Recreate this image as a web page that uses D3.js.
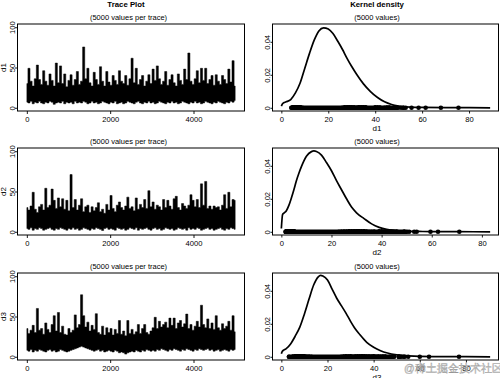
<!DOCTYPE html>
<html><head><meta charset="utf-8">
<script src="https://cdn.jsdelivr.net/npm/d3@7"></script>
<style>
body{margin:0;background:#fff}
svg{display:block}
text{font-family:"Liberation Sans",Arial,Helvetica,sans-serif}
</style>
</head><body>
<svg id="c" width="500" height="378"></svg>
<script>
// ---------------- data ----------------
const traceNames = ["d1", "d2", "d3"];
const nIter = 5000;
const iterTicks = [0, 2000, 4000];
const traceTicks = [0, 50, 100];
const densXTicks = [0, 20, 40, 60, 80];
const densYTicks = [0, 0.02, 0.04];
const traceTitle = "Trace Plot";
const densTitle = "Kernel density";
const traceSub = "(5000 values per trace)";
const densSub = "(5000 values)";

// trace envelopes: max / min value in each block of 50 iterations
const d1Hi = [30,49,33,27,36,53,35,29,46,33, 28,42,34,27,55.5,31,52,30,42,26, 34,41,28,35,45,29,33,75.5,36,49,
  31,27,44,35,29,51,33,27,45,32, 28,40,34,29,46,33,30,40,28,36, 61.5,31,49,29,35,40,27,33,41,30,
  48,34,52,36,29,33,45,28,35,41, 31,27,42,34,29,48,35,68,33,29, 36,46,31,49,34,49,30,35,40,28,
  41,33,29,40,35,30,48,32,58.5,27];
const d1Lo = [7,6,8,5,7,6,8,6,5,7, 6,8,7,4.3,6,7,6,8,5,7, 6,7,5,8,6,7,6,8,7,5, 6,8,6,7,5,6,8,7,6,5,
  7,6,8,5,6,7,5,6,8,7, 6,5,7,8,6,5,7,6,8,6, 7,5,6,8,7,6,5,7,6,8, 6,7,5,6,8,7,6,5,7,6,
  8,6,7,5,6,8,7,6,5,7, 6,8,7,6,5,7,6,8,7,9];
const d2Hi = [30,27,32,49,28,24,31,34,27,54, 30,33,53,39,29,42,31,41,28,39, 26,71,30,40,27,33,41,25,31,33,
  24,31,26,30,36,25,28,23,34,27, 45,29,25,33,37,30,27,32,43,29, 31,26,42,28,34,30,40,29,51,31,
  37,28,33,31,27,40,30,39,32,28, 41,44,30,27,35,32,29,33,46,39, 31,40,30,59.5,33,62.5,29,32,28,32,
  30,31,27,33,46,29,49,31,40,39];
const d2Lo = [4,3,5,2,4,3,5,4,2,3, 4,5,3,2,4,3,5,4,3,2, 4,3,5,3,4,2,3,5,4,3, 2,4,3,5,4,3,1.7,4,5,3,
  4,3,2,5,4,3,4,2,3,5, 4,3,5,2,4,3,4,5,3,2, 4,5,3,4,2,3,5,4,3,4, 2,3,5,4,3,4,2,5,3,4,
  3,5,4,2,3,4,5,3,4,2, 3,4,5,3,2,4,3,5,4,3];
const d3Hi = [35,29,33,39,30,60,33,35,28,42, 34,30,40,51,32,55,30,38,28,27, 35,30,33,52,36,40,77,51,37,43,
  32,39,34,53.5,30,28,38,27,36,30, 35,27,34,29,45,28,32,26,45,29, 34,28,31,40,29,35,40,30,28,32,
  36,49,35,44,37,40,43,36,48,39, 48,35,42,45,37,41,53,35,40,33, 38,44,37,64,40,36,47,35,42,34,
  51,36,33,41,35,38,44,33,51,31];
const d3Lo = [8,7,9,6,8,7,9,8,7,6, 8,9,7,8,6,7,9,8,7,6, 7,8,9,10,11,12,13,12,11,10, 9,8,7,8,9,7,8,6,7,8,
  7,6,8,7,5,6,5,3.3,5,6, 7,6,8,7,6,8,7,9,8,7, 8,7,9,8,10,9,8,7,9,8, 10,9,8,7,9,8,10,9,8,7,
  9,8,10,9,8,9,10,8,9,7, 8,9,7,8,9,8,7,9,8,9];

// kernel density estimates (x, density)
const dens1X = [0,0.5,1,2,4,6,8,10,12,14,16,18,20,22,24,26,28,30,32,35,38,41,44,47,50,55,60,70,80,89];
const dens1Y = [0.001,0.0025,0.003,0.0036,0.005,0.009,0.015,0.024,0.033,0.041,0.0466,0.0485,0.0478,0.045,0.0405,
  0.0355,0.030,0.025,0.0205,0.0145,0.0098,0.0062,0.0036,0.002,0.0011,0.0004,0.0002,0.0001,0.00005,0];
const dens2X = [0,0.5,1,2,3,4,5,6,7,8,10,12,13,14,16,18,20,22,24,26,28,30,33,36,39,42,45,50,55,60,70,83.3];
const dens2Y = [0.002,0.0105,0.0113,0.0128,0.016,0.0205,0.0255,0.031,0.0355,0.0395,0.0458,0.0486,0.049,0.0487,
  0.0465,0.042,0.037,0.031,0.0255,0.020,0.0150,0.0115,0.008,0.0048,0.0027,0.0015,0.0009,0.0004,0.0002,0.0001,0.00005,0];
const dens3X = [0,0.5,1,2,4,6,8,10,12,14,16,17,18,20,22,24,26,28,30,32,34,37,40,43,46,50,55,60,70,80,90.5];
const dens3Y = [0.0018,0.0035,0.004,0.0048,0.0078,0.0125,0.018,0.026,0.035,0.0435,0.0485,0.0494,0.049,0.0465,
  0.041,0.0355,0.031,0.0265,0.0215,0.017,0.0135,0.0088,0.0058,0.0037,0.0023,0.0012,0.0005,0.0002,0.0001,0.00005,0];

// range over which the rug of 5000 points is continuous
const rugDense = [[4.3, 49.8], [1.7, 50.2], [3.3, 48.3]];
const watermark = "@稀土掘金技术社区";

// ---------------- layout ----------------
const svg = d3.select("#c");
const rowTops = [0, 124, 249];
const boxTop = 24, boxBot = 111;
const tBox = {x0: 17.5, x1: 244.5};
const dBox = {x0: 272.5, x1: 498.5};
const FS = 7.6;

const his = [d1Hi, d2Hi, d3Hi], los = [d1Lo, d2Lo, d3Lo];
const dxs = [dens1X, dens2X, dens3X], dys = [dens1Y, dens2Y, dens3Y];

// column titles
svg.append("text").attr("x", 126).attr("y", 7).attr("text-anchor", "middle")
  .attr("font-size", 7.8).attr("font-weight", "bold").text(traceTitle);
svg.append("text").attr("x", 377).attr("y", 7).attr("text-anchor", "middle")
  .attr("font-size", 7.8).attr("font-weight", "bold").text(densTitle);

function styleAxis(a) {
  a.select(".domain").remove();
  a.attr("font-family", null).attr("font-size", FS);
  a.selectAll("text").attr("font-size", FS).attr("fill", "#000");
  a.selectAll("line").attr("stroke", "#000").attr("stroke-width", 0.9);
}

traceNames.forEach((name, r) => {
  const g = svg.append("g").attr("transform", `translate(0,${rowTops[r]})`);
  const hi = his[r], lo = los[r];

  // ---------- trace plot ----------
  const xT = d3.scaleLinear().domain([-0.04 * nIter, 1.04 * nIter]).range([18.5, 243.5]);
  const yT = d3.scaleLinear().domain([-4, 104]).range([boxBot, boxTop]);
  const iters = hi.map((_, k) => 1 + k * (nIter - 1) / (hi.length - 1));
  const area = d3.area()
    .x((d, k) => xT(iters[k]))
    .y0((d, k) => yT(lo[k]))
    .y1(d => yT(d))
    .curve(d3.curveStep);
  g.append("path").datum(hi).attr("d", area)
    .attr("fill", "#000").attr("stroke", "#000").attr("stroke-width", 0.5)
    .attr("stroke-linejoin", "miter");

  g.append("rect").attr("x", tBox.x0).attr("y", boxTop)
    .attr("width", tBox.x1 - tBox.x0).attr("height", boxBot - boxTop)
    .attr("fill", "none").attr("stroke", "#000").attr("stroke-width", 1);

  const axT = g.append("g").attr("transform", `translate(0,${boxBot})`)
    .call(d3.axisBottom(xT).tickValues(iterTicks).tickSize(3).tickPadding(2.2).tickFormat(d3.format("d")));
  styleAxis(axT);
  const ayT = g.append("g").attr("transform", `translate(${tBox.x0},0)`)
    .call(d3.axisLeft(yT).tickValues(traceTicks).tickSize(2.5).tickFormat(d3.format("d")));
  styleAxis(ayT);
  ayT.selectAll(".tick text").attr("x", 0).attr("dy", 0).attr("text-anchor", "middle")
    .attr("transform", "translate(-3,0) rotate(-90)");

  g.append("text").attr("transform", `translate(5.8,${(boxTop + boxBot) / 2}) rotate(-90)`)
    .attr("text-anchor", "middle").attr("font-size", 8).text(name);
  g.append("text").attr("x", 128.5).attr("y", 19.8).attr("text-anchor", "middle")
    .attr("font-size", 7.5).text(traceSub);

  // ---------- density plot ----------
  const dx = dxs[r], dy = dys[r];
  const xmin = d3.min(dx), xmax = d3.max(dx), xr = xmax - xmin;
  const xD = d3.scaleLinear().domain([xmin - 0.04 * xr, xmax + 0.04 * xr]).range([273, 498.5]);
  const yD = d3.scaleLinear().domain([-0.00195, 0.0508]).range([boxBot, boxTop]);

  // rug of values at density 0
  const dense = rugDense[r];
  g.append("line").attr("x1", xD(dense[0])).attr("x2", xD(dense[1]))
    .attr("y1", yD(0)).attr("y2", yD(0))
    .attr("stroke", "#000").attr("stroke-width", 4.6).attr("stroke-linecap", "round");
  g.append("g").selectAll("circle").data(hi.concat(lo)).join("circle")
    .attr("cx", d => xD(d)).attr("cy", yD(0)).attr("r", 2.3).attr("fill", "#000");

  const line = d3.line().x((d, k) => xD(dx[k])).y(d => yD(d)).curve(d3.curveMonotoneX);
  g.append("path").datum(dy).attr("d", line)
    .attr("fill", "none").attr("stroke", "#000").attr("stroke-width", 1.7)
    .attr("stroke-linejoin", "round");

  g.append("rect").attr("x", dBox.x0).attr("y", boxTop)
    .attr("width", dBox.x1 - dBox.x0).attr("height", boxBot - boxTop)
    .attr("fill", "none").attr("stroke", "#000").attr("stroke-width", 1);

  const axD = g.append("g").attr("transform", `translate(0,${boxBot})`)
    .call(d3.axisBottom(xD).tickValues(densXTicks).tickSize(2.5).tickPadding(2.7).tickFormat(d3.format("d")));
  styleAxis(axD);
  const ayD = g.append("g").attr("transform", `translate(${dBox.x0},0)`)
    .call(d3.axisLeft(yD).tickValues(densYTicks).tickSize(2)
      .tickFormat(d => d === 0 ? "0" : d3.format(".2f")(d)));
  styleAxis(ayD);
  ayD.selectAll(".tick text").attr("x", 0).attr("dy", 0).attr("text-anchor", "middle")
    .attr("transform", "translate(-2.5,0) rotate(-90)");

  g.append("text").attr("x", 377).attr("y", 19.8).attr("text-anchor", "middle")
    .attr("font-size", 7.5).text(densSub);
  g.append("text").attr("x", 377).attr("y", boxBot + 19.5).attr("text-anchor", "middle")
    .attr("font-size", 8).text(name);
});

// watermark
svg.append("text").attr("x", 404).attr("y", 371.5)
  .attr("font-family", "'Noto Sans CJK SC', sans-serif").attr("font-size", 10.5)
  .attr("fill", "#d6d6d6").attr("stroke", "#8a8a8a").attr("stroke-width", 0.35)
  .attr("opacity", 0.9).text(watermark);
</script>
</body></html>
